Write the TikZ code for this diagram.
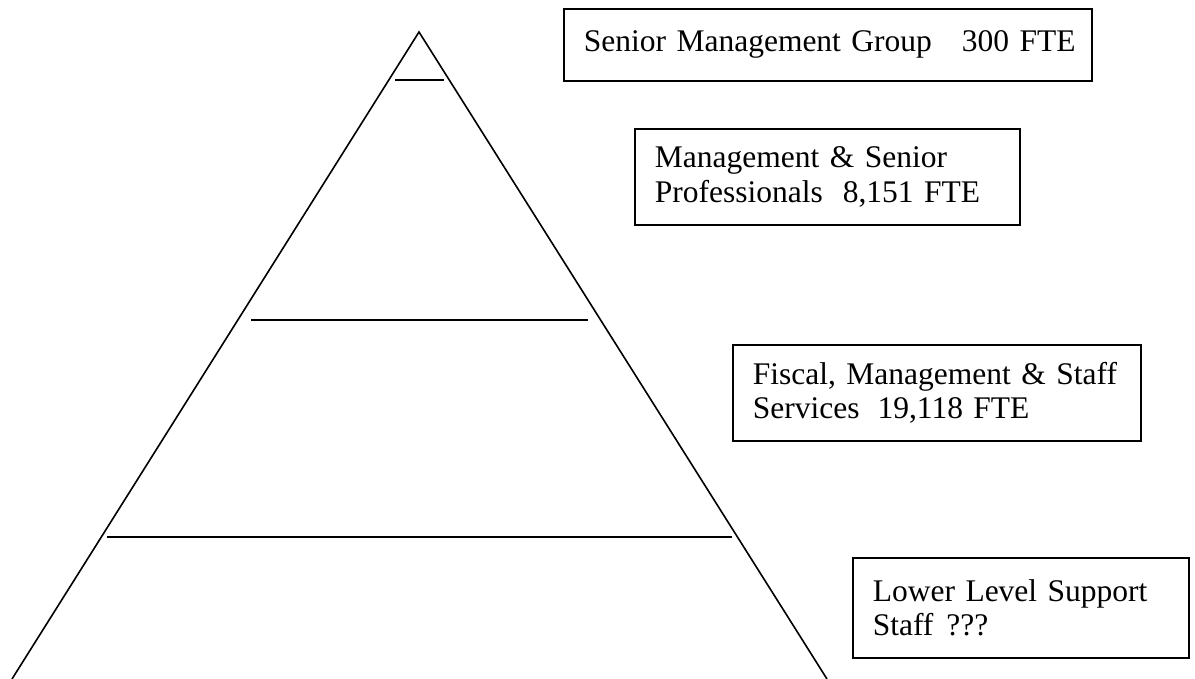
\documentclass[tikz,border=0pt]{standalone}
\usepackage{fontspec}
\setmainfont{Liberation Serif}
\begin{document}
\begin{tikzpicture}[x=1pt,y=-1pt,
  frame/.style={draw, line width=1.6pt, anchor=north west, inner xsep=20pt, inner ysep=0pt, align=left,
    font=\fontsize{31.5}{34.5}\selectfont},
  edge/.style={line width=1.6pt},
  level/.style={line width=1.8pt}]
\useasboundingbox (0,0) rectangle (1195,679);
% pyramid
\coordinate (apex) at (419,32);
\coordinate (bl) at (12,679);
\coordinate (br) at (827,679);
\draw[edge, line join=miter] (bl) -- (apex) -- (br);
\coordinate (l1a) at (395,80);  \coordinate (l1b) at (444,80);
\coordinate (l2a) at (251,320); \coordinate (l2b) at (588,320);
\coordinate (l3a) at (107,537); \coordinate (l3b) at (732,537);
\draw[level] (l1a) -- (l1b);
\draw[level] (l2a) -- (l2b);
\draw[level] (l3a) -- (l3b);
% boxes
\node[frame, minimum width=528pt, minimum height=72pt, text width=488pt] (b1) at (563,8)
  {\raisebox{7pt}{Senior Management Group\hspace{30pt}300 FTE}};
\node[frame, minimum width=385pt, minimum height=96pt, text width=345pt] (b2) at (634,128)
  {Management \& Senior\\Professionals\hspace{20pt}8,151 FTE};
\node[frame, minimum width=408pt, minimum height=96pt, text width=368pt] (b3) at (732,344)
  {Fiscal, Management \& Staff\\Services\hspace{18pt}19,118 FTE};
\node[frame, minimum width=336pt, minimum height=100pt, text width=296pt] (b4) at (852,557)
  {Lower Level Support\\Staff\hspace{13pt}???};
\end{tikzpicture}
\end{document}
